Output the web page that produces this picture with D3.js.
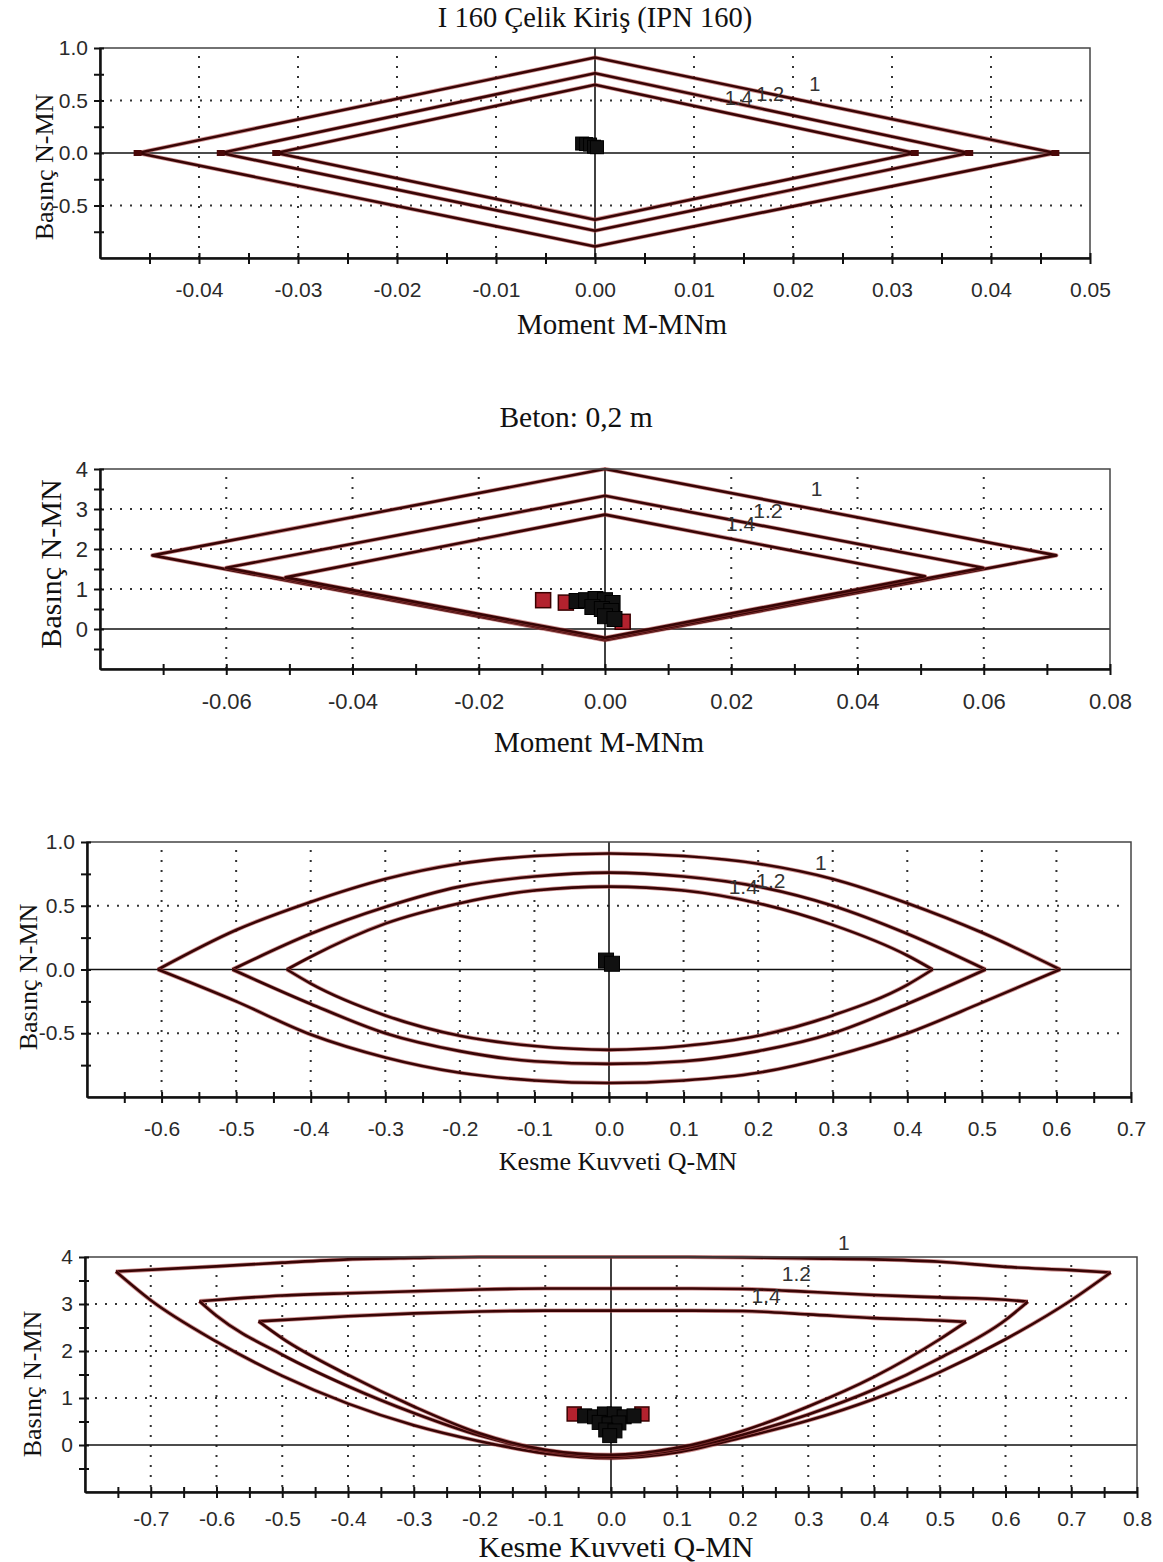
<!DOCTYPE html>
<html>
<head>
<meta charset="utf-8">
<script src="https://cdn.jsdelivr.net/npm/d3@7"></script>
<style>
  body { margin: 0; background: #fff; }
  svg { display: block; }
  .serif { font-family: "Liberation Serif", "Times New Roman", serif; fill: #111; }
  .curve-label { font-family: "Liberation Sans", Arial, sans-serif; fill: #333; }
</style>
</head>
<body>
<div id="chart"></div>
<script>
// ---------- Panel 1: I 160 steel beam, M–N interaction (M in MNm, N in MN) ----------
const steelMN_1  = [[-0.0462, 0], [0, 0.91], [0.0465, 0], [0, -0.89]];
const steelMN_12 = [[-0.0378, 0], [0, 0.76], [0.0378, 0], [0, -0.74]];
const steelMN_14 = [[-0.0322, 0], [0, 0.65], [0.0323, 0], [0, -0.635]];
const steelMN_loadM = [-0.0013, -0.0009, -0.0005, -0.0001, 0.0002];
const steelMN_loadN = [0.09, 0.085, 0.08, 0.06, 0.055];
const steelMN_xTicks = [-0.04, -0.03, -0.02, -0.01, 0, 0.01, 0.02, 0.03, 0.04, 0.05];
const steelMN_yTicks = [-0.5, 0, 0.5, 1.0];
const steelMN_labelPos = [[0.0222, 0.655], [0.0177, 0.565], [0.0145, 0.52]];

// ---------- Panel 2: concrete 0,2 m, M–N interaction ----------
const concMN_1  = [[-0.0717, 1.84], [0, 4.0], [0.0715, 1.84], [0, -0.28]];
const concMN_12 = [[-0.0600, 1.53], [0, 3.33], [0.0599, 1.53], [0, -0.25]];
const concMN_14 = [[-0.0506, 1.29], [0, 2.86], [0.0507, 1.32], [0, -0.22]];
const concMN_redM = [-0.0098, -0.0062, 0.0028];
const concMN_redN = [0.72, 0.66, 0.18];
const concMN_blackM = [-0.0045, -0.003, -0.0015, 0.0, 0.0012, -0.002, -0.0005, 0.001, 0.0, 0.0015];
const concMN_blackN = [0.70, 0.72, 0.75, 0.72, 0.65, 0.55, 0.50, 0.45, 0.32, 0.25];
const concMN_xTicks = [-0.06, -0.04, -0.02, 0, 0.02, 0.04, 0.06, 0.08];
const concMN_yTicks = [0, 1, 2, 3, 4];
const concMN_labelPos = [[0.0335, 3.5], [0.0258, 2.95], [0.0215, 2.64]];

// ---------- Panel 3: steel beam, Q–N interaction (Q in MN) ----------
const steelQN_Q1 = [-0.605, -0.5, -0.4, -0.3, -0.2, -0.1, 0, 0.1, 0.2, 0.3, 0.4, 0.5, 0.605];
const steelQN_top1 = [0, 0.31, 0.53, 0.71, 0.83, 0.89, 0.91, 0.89, 0.83, 0.71, 0.52, 0.29, 0];
const steelQN_bot1 = [0, -0.25, -0.51, -0.69, -0.81, -0.87, -0.89, -0.87, -0.81, -0.68, -0.50, -0.26, 0];
const steelQN_Q12 = [-0.505, -0.4, -0.3, -0.2, -0.1, 0, 0.1, 0.2, 0.3, 0.4, 0.505];
const steelQN_top12 = [0, 0.28, 0.49, 0.65, 0.73, 0.76, 0.73, 0.65, 0.50, 0.28, 0];
const steelQN_bot12 = [0, -0.27, -0.50, -0.64, -0.72, -0.74, -0.72, -0.64, -0.50, -0.27, 0];
const steelQN_Q14 = [-0.432, -0.4, -0.3, -0.2, -0.1, 0, 0.1, 0.2, 0.3, 0.4, 0.434];
const steelQN_top14 = [0, 0.10, 0.36, 0.52, 0.62, 0.65, 0.62, 0.52, 0.35, 0.11, 0];
const steelQN_bot14 = [0, -0.11, -0.36, -0.52, -0.60, -0.63, -0.60, -0.52, -0.36, -0.12, 0];
const steelQN_loadQ = [-0.004, 0.004];
const steelQN_loadN = [0.07, 0.045];
const steelQN_xTicks = [-0.6, -0.5, -0.4, -0.3, -0.2, -0.1, 0, 0.1, 0.2, 0.3, 0.4, 0.5, 0.6, 0.7];
const steelQN_yTicks = [-0.5, 0, 0.5, 1.0];
const steelQN_labelPos = [[0.284, 0.84], [0.217, 0.70], [0.18, 0.65]];

// ---------- Panel 4: concrete, Q–N interaction ----------
const concQN_topQ1 = [-0.753, -0.6, -0.5, -0.4, -0.3, -0.2, -0.1, 0, 0.1, 0.2, 0.3, 0.4, 0.5, 0.6, 0.7, 0.76];
const concQN_topN1 = [3.69, 3.80, 3.88, 3.95, 3.98, 4.0, 4.0, 4.0, 4.0, 3.99, 3.97, 3.95, 3.90, 3.79, 3.72, 3.67];
const concQN_botQ1 = [-0.753, -0.7, -0.6, -0.5, -0.4, -0.3, -0.2, -0.1, 0, 0.1, 0.2, 0.3, 0.4, 0.5, 0.6, 0.7, 0.76];
const concQN_botN1 = [3.69, 3.08, 2.20, 1.47, 0.88, 0.42, 0.08, -0.18, -0.28, -0.16, 0.16, 0.52, 0.98, 1.55, 2.25, 3.08, 3.67];
const concQN_topQ12 = [-0.626, -0.5, -0.4, -0.3, -0.2, -0.1, 0, 0.1, 0.2, 0.3, 0.4, 0.5, 0.6, 0.634];
const concQN_topN12 = [3.06, 3.18, 3.23, 3.27, 3.31, 3.33, 3.33, 3.33, 3.32, 3.26, 3.19, 3.14, 3.09, 3.05];
const concQN_botQ12 = [-0.626, -0.6, -0.5, -0.4, -0.3, -0.2, -0.1, 0, 0.1, 0.2, 0.3, 0.4, 0.5, 0.6, 0.634];
const concQN_botN12 = [3.06, 2.75, 1.92, 1.25, 0.68, 0.20, -0.12, -0.25, -0.10, 0.22, 0.65, 1.18, 1.85, 2.66, 3.05];
const concQN_topQ14 = [-0.536, -0.4, -0.3, -0.2, -0.1, 0, 0.1, 0.2, 0.3, 0.4, 0.5, 0.54];
const concQN_topN14 = [2.63, 2.74, 2.80, 2.84, 2.86, 2.86, 2.86, 2.85, 2.78, 2.70, 2.65, 2.62];
const concQN_botQ14 = [-0.536, -0.5, -0.4, -0.3, -0.2, -0.1, 0, 0.1, 0.2, 0.3, 0.4, 0.5, 0.54];
const concQN_botN14 = [2.63, 2.27, 1.49, 0.82, 0.25, -0.10, -0.21, -0.06, 0.30, 0.82, 1.45, 2.25, 2.62];
const concQN_redQ = [-0.056, 0.047];
const concQN_redN = [0.66, 0.66];
const concQN_blackQ = [-0.04, -0.025, -0.01, 0.005, 0.02, 0.035, -0.018, -0.003, 0.012, -0.008, 0.006, -0.002];
const concQN_blackN = [0.62, 0.60, 0.66, 0.66, 0.60, 0.62, 0.48, 0.45, 0.47, 0.32, 0.30, 0.20];
const concQN_xTicks = [-0.7, -0.6, -0.5, -0.4, -0.3, -0.2, -0.1, 0, 0.1, 0.2, 0.3, 0.4, 0.5, 0.6, 0.7, 0.8];
const concQN_yTicks = [0, 1, 2, 3, 4];
const concQN_labelPos = [[0.354, 4.30], [0.282, 3.64], [0.236, 3.18]];

const curveNames = ["1", "1.2", "1.4"];

// ---------- drawing helpers ----------
const svg = d3.select("#chart").append("svg").attr("width", 1163).attr("height", 1562);
const fmt2 = d => d.toFixed(2);
const fmt1 = d => d.toFixed(1);
const fmt0 = d => d.toFixed(0);
const zip = (a, b) => a.map((v, i) => [v, b[i]]);

function strokeCurve(g, d) {
  g.append("path").attr("d", d).attr("fill", "none")
    .attr("stroke", "#b04a4a").attr("stroke-opacity", 0.6)
    .attr("stroke-width", 4.2).attr("stroke-linejoin", "round");
  g.append("path").attr("d", d).attr("fill", "none")
    .attr("stroke", "#380505").attr("stroke-width", 2.6).attr("stroke-linejoin", "round");
}

function drawPanel(p) {
  const g = svg.append("g");
  const x = d3.scaleLinear().domain(p.xDomain).range([p.left, p.right]);
  const y = d3.scaleLinear().domain(p.yDomain).range([p.bottom, p.top]);

  // dotted grid
  const vGrid = p.xTicks.filter(v => v !== 0 && v < p.xDomain[1]);
  g.selectAll(null).data(vGrid).join("line")
    .attr("x1", d => x(d)).attr("x2", d => x(d))
    .attr("y1", p.top + 8).attr("y2", p.bottom)
    .attr("stroke", "#333").attr("stroke-width", 2).attr("stroke-dasharray", "2,8");
  g.selectAll(null).data(p.yGrid).join("line")
    .attr("x1", p.left).attr("x2", p.right - 6)
    .attr("y1", d => y(d)).attr("y2", d => y(d))
    .attr("stroke", "#333").attr("stroke-width", 2).attr("stroke-dasharray", "2,8");

  // zero lines
  g.append("line").attr("x1", p.left).attr("x2", p.right).attr("y1", y(0)).attr("y2", y(0))
    .attr("stroke", "#111").attr("stroke-width", 1.6);
  g.append("line").attr("x1", x(0)).attr("x2", x(0)).attr("y1", p.top).attr("y2", p.bottom)
    .attr("stroke", "#111").attr("stroke-width", 1.6);

  // interaction curves
  const cg = g.append("g");
  if (p.polygons) {
    const line = d3.line().x(d => x(d[0])).y(d => y(d[1])).curve(d3.curveLinearClosed);
    p.polygons.forEach(poly => strokeCurve(cg, line(poly)));
  }
  if (p.branches) {
    const line = d3.line().x(d => x(d[0])).y(d => y(d[1])).curve(d3.curveMonotoneX);
    p.branches.forEach(br => strokeCurve(cg, line(br)));
  }
  if (p.tips) {
    cg.selectAll(null).data(p.tips).join("rect")
      .attr("x", d => x(d[0]) - 4).attr("y", d => y(d[1]) - 3)
      .attr("width", 8).attr("height", 6).attr("fill", "#4a0808");
  }

  // load points
  const s = p.markerSize;
  const mg = g.append("g");
  (p.redPts || []).forEach(d => {
    mg.append("rect").attr("x", x(d[0]) - s / 2).attr("y", y(d[1]) - s / 2)
      .attr("width", s).attr("height", s)
      .attr("fill", "#b3222e").attr("stroke", "#3a0000").attr("stroke-width", 1.5);
  });
  (p.blackPts || []).forEach(d => {
    mg.append("rect").attr("x", x(d[0]) - s / 2).attr("y", y(d[1]) - s / 2)
      .attr("width", s).attr("height", s)
      .attr("fill", "#111").attr("stroke", "#000").attr("stroke-width", 1);
  });

  // frame
  g.append("rect").attr("x", p.left).attr("y", p.top)
    .attr("width", p.right - p.left).attr("height", p.bottom - p.top)
    .attr("fill", "none").attr("stroke", "#444").attr("stroke-width", 1.5);

  // x axis with crossing ticks
  const xa = g.append("g").attr("transform", `translate(0,${p.bottom})`)
    .call(d3.axisBottom(x).tickValues(p.xTicks).tickFormat(p.xFmt)
      .tickSize(6).tickSizeOuter(0).tickPadding(p.xPad));
  const xm = g.append("g").attr("transform", `translate(0,${p.bottom})`)
    .call(d3.axisBottom(x).tickValues(p.xMinor).tickFormat("").tickSize(6).tickSizeOuter(0));
  // y axis
  const ya = g.append("g").attr("transform", `translate(${p.left},0)`)
    .call(d3.axisLeft(y).tickValues(p.yTicks).tickFormat(p.yFmt)
      .tickSize(6).tickSizeOuter(0).tickPadding(p.yPad));
  const ym = g.append("g").attr("transform", `translate(${p.left},0)`)
    .call(d3.axisLeft(y).tickValues(p.yMinor).tickFormat("").tickSize(6).tickSizeOuter(0));

  [xa, xm, ya, ym].forEach(a => {
    a.attr("color", "#111").attr("font-family", "'Liberation Sans', Arial, sans-serif")
      .attr("font-size", p.tickSize);
    a.select(".domain").attr("stroke-width", 2);
    a.selectAll(".tick line").attr("stroke-width", 2);
    a.selectAll(".tick text").attr("fill", "#2a2a2a");
  });
  [xa, xm].forEach(a => a.selectAll(".tick line").attr("y1", -5));
  [ya, ym].forEach(a => a.selectAll(".tick line").attr("x1", 4));

  // curve labels
  g.selectAll(null).data(p.labelPos).join("text")
    .attr("class", "curve-label").attr("font-size", p.curveLabelSize)
    .attr("x", d => x(d[0])).attr("y", d => y(d[1]))
    .attr("text-anchor", "middle").attr("dy", "0.35em")
    .text((d, i) => curveNames[i]);

  // titles
  if (p.title) {
    g.append("text").attr("class", "serif").attr("font-size", p.titleSize)
      .attr("x", p.titleX).attr("y", p.titleY)
      .attr("text-anchor", "middle").text(p.title);
  }
  g.append("text").attr("class", "serif").attr("font-size", p.xLabelSize)
    .attr("x", p.xLabelX).attr("y", p.xLabelY)
    .attr("text-anchor", "middle").text(p.xLabel);
  g.append("text").attr("class", "serif").attr("font-size", p.yLabelSize)
    .attr("transform", `translate(${p.yLabelX},${p.yLabelY}) rotate(-90)`)
    .attr("text-anchor", "middle").attr("dy", "0.35em").text("Basınç N-MN");
}

// ---------- panels ----------
drawPanel({
  left: 100, right: 1090, top: 48, bottom: 258,
  xDomain: [-0.05, 0.05], yDomain: [-1, 1],
  xTicks: steelMN_xTicks, xMinor: d3.range(-0.045, 0.05, 0.01), xFmt: fmt2, xPad: 18,
  yTicks: steelMN_yTicks, yMinor: [-0.75, -0.25, 0.25, 0.75], yFmt: fmt1, yPad: 6,
  yGrid: [-0.5, 0.5], tickSize: 21, curveLabelSize: 20,
  polygons: [steelMN_1, steelMN_12, steelMN_14],
  tips: [steelMN_1[0], steelMN_1[2], steelMN_12[0], steelMN_12[2], steelMN_14[0], steelMN_14[2]],
  blackPts: zip(steelMN_loadM, steelMN_loadN), markerSize: 13,
  labelPos: steelMN_labelPos,
  title: "I 160 Çelik Kiriş (IPN 160)", titleX: 595, titleY: 27, titleSize: 28.5,
  xLabel: "Moment M-MNm", xLabelX: 622, xLabelY: 334, xLabelSize: 29,
  yLabelX: 44, yLabelY: 167, yLabelSize: 26
});

drawPanel({
  left: 100, right: 1110, top: 469, bottom: 669,
  xDomain: [-0.08, 0.08], yDomain: [-1, 4],
  xTicks: concMN_xTicks, xMinor: d3.range(-0.07, 0.08, 0.02), xFmt: fmt2, xPad: 18,
  yTicks: concMN_yTicks, yMinor: [-0.5, 0.5, 1.5, 2.5, 3.5], yFmt: fmt0, yPad: 6,
  yGrid: [1, 2, 3], tickSize: 22, curveLabelSize: 21,
  polygons: [concMN_1, concMN_12, concMN_14],
  redPts: zip(concMN_redM, concMN_redN),
  blackPts: zip(concMN_blackM, concMN_blackN), markerSize: 15,
  labelPos: concMN_labelPos,
  title: "Beton: 0,2 m", titleX: 576, titleY: 427, titleSize: 29.5,
  xLabel: "Moment M-MNm", xLabelX: 599, xLabelY: 752, xLabelSize: 29,
  yLabelX: 50, yLabelY: 564, yLabelSize: 30
});

drawPanel({
  left: 87, right: 1131, top: 842, bottom: 1097,
  xDomain: [-0.7, 0.7], yDomain: [-1, 1],
  xTicks: steelQN_xTicks, xMinor: d3.range(-0.65, 0.7, 0.1), xFmt: fmt1, xPad: 18,
  yTicks: steelQN_yTicks, yMinor: [-0.75, -0.25, 0.25, 0.75], yFmt: fmt1, yPad: 6,
  yGrid: [-0.5, 0.5], tickSize: 21, curveLabelSize: 21,
  branches: [
    zip(steelQN_Q1, steelQN_top1), zip(steelQN_Q1, steelQN_bot1),
    zip(steelQN_Q12, steelQN_top12), zip(steelQN_Q12, steelQN_bot12),
    zip(steelQN_Q14, steelQN_top14), zip(steelQN_Q14, steelQN_bot14)
  ],
  blackPts: zip(steelQN_loadQ, steelQN_loadN), markerSize: 15,
  labelPos: steelQN_labelPos,
  xLabel: "Kesme Kuvveti Q-MN", xLabelX: 618, xLabelY: 1170, xLabelSize: 26,
  yLabelX: 28, yLabelY: 977, yLabelSize: 26
});

drawPanel({
  left: 85, right: 1137, top: 1257, bottom: 1492,
  xDomain: [-0.8, 0.8], yDomain: [-1, 4],
  xTicks: concQN_xTicks, xMinor: d3.range(-0.75, 0.8, 0.1), xFmt: fmt1, xPad: 13,
  yTicks: concQN_yTicks, yMinor: [-0.5, 0.5, 1.5, 2.5, 3.5], yFmt: fmt0, yPad: 6,
  yGrid: [1, 2, 3], tickSize: 21, curveLabelSize: 21,
  branches: [
    zip(concQN_topQ1, concQN_topN1), zip(concQN_botQ1, concQN_botN1),
    zip(concQN_topQ12, concQN_topN12), zip(concQN_botQ12, concQN_botN12),
    zip(concQN_topQ14, concQN_topN14), zip(concQN_botQ14, concQN_botN14)
  ],
  redPts: zip(concQN_redQ, concQN_redN),
  blackPts: zip(concQN_blackQ, concQN_blackN), markerSize: 14,
  labelPos: concQN_labelPos,
  xLabel: "Kesme Kuvveti Q-MN", xLabelX: 616, xLabelY: 1557, xLabelSize: 30,
  yLabelX: 32, yLabelY: 1384, yLabelSize: 26
});
</script>
</body>
</html>
